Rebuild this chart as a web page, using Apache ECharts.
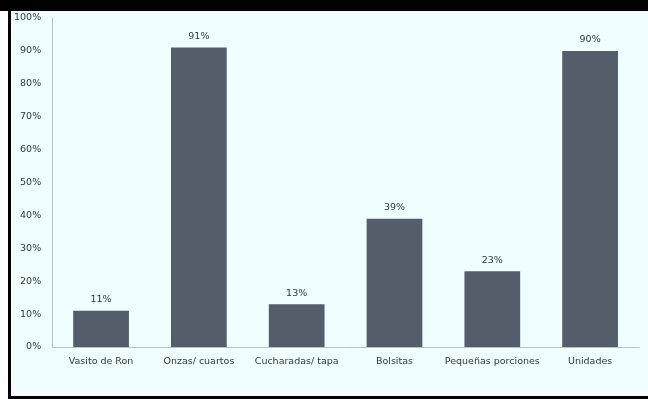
<!DOCTYPE html>
<html><head><meta charset="utf-8">
<script src="https://cdn.jsdelivr.net/npm/echarts@6/dist/echarts.min.js"></script>
<style>
html,body{margin:0;padding:0;background:#fff;}
#wrap{position:absolute;left:0;top:0;width:648px;height:399px;background:#000;}
#chart{position:absolute;left:11px;top:11px;width:637px;height:385px;background:#f0feff;}
#lm{position:absolute;left:0;top:11px;width:8px;height:388px;background:#fff;}
</style></head>
<body>
<div id="wrap"><div id="lm"></div><div id="chart"></div></div>
<script>
var categories = ["Vasito de Ron", "Onzas/ cuartos", "Cucharadas/ tapa", "Bolsitas", "Pequeñas porciones", "Unidades"];
var values = [0.11, 0.91, 0.13, 0.39, 0.23, 0.90];

var chart = echarts.init(document.getElementById('chart'), null, {renderer: 'canvas'});
var font = 'DejaVu Sans';
chart.setOption({
  backgroundColor: '#f0feff',
  animation: false,
  grid: {left: 41, right: 9, top: 7, bottom: 49},
  xAxis: {
    type: 'category',
    data: categories,
    axisLine: {lineStyle: {color: '#b8c0ca', width: 1}},
    axisTick: {show: false},
    axisLabel: {color: '#2f3744', fontFamily: font, fontSize: 9.5, margin: 10, interval: 0}
  },
  yAxis: {
    type: 'value',
    min: 0, max: 1, interval: 0.1,
    axisLine: {show: true, lineStyle: {color: '#b8c0ca', width: 1}},
    axisTick: {show: false},
    splitLine: {show: false},
    axisLabel: {color: '#2f3744', fontFamily: font, fontSize: 9.5, margin: 11,
      formatter: function (v) { return Math.round(v * 100) + '%'; }}
  },
  series: [{
    type: 'bar',
    data: values,
    barWidth: '57%',
    itemStyle: {color: '#545e6b'},
    label: {show: true, position: 'top', distance: 6, color: '#2f3744', fontFamily: font, fontSize: 9.5,
      formatter: function (p) { return Math.round(p.value * 100) + '%'; }}
  }]
});
</script>
</body></html>
